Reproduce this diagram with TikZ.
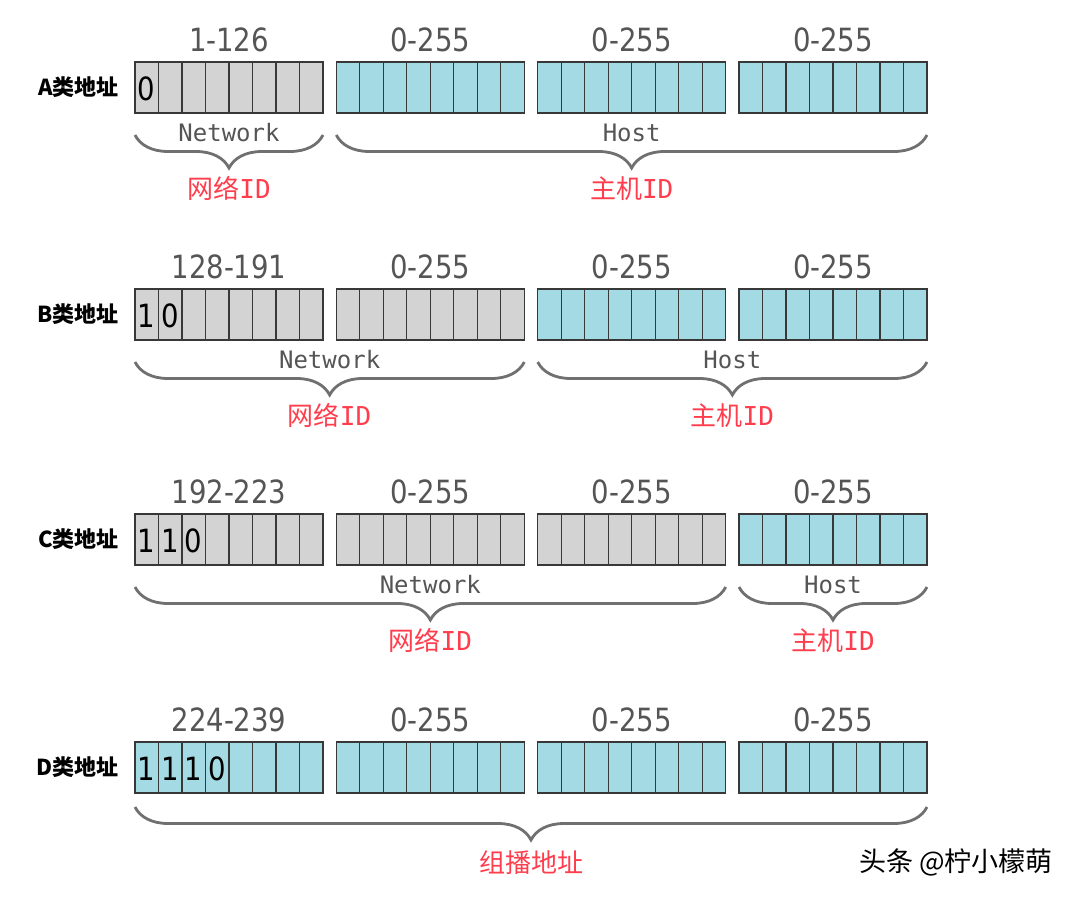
\documentclass[tikz,border=0pt]{standalone}
\usepackage{fontspec}
\setmonofont{DejaVu Sans Mono}
\newfontfamily\rangefont[FakeStretch=0.86]{DejaVu Sans}
\newfontfamily\cjk{Noto Sans CJK SC}
\usetikzlibrary{positioning,calc,decorations.pathreplacing}
\definecolor{netgray}{HTML}{D3D3D3}
\definecolor{hostblue}{HTML}{A3DAE3}
\definecolor{edgegray}{HTML}{383838}
\definecolor{textgray}{HTML}{555555}
\definecolor{bracegray}{HTML}{707070}
\definecolor{idred}{HTML}{FF3D4D}

\begin{document}
\begin{tikzpicture}
[x=1pt,y=-1pt,
octet/.style={draw=edgegray,line width=1.3pt,minimum width=188pt,minimum height=51pt,inner sep=0pt,outer sep=0pt,anchor=north west},
net/.style={octet,fill=netgray},
host/.style={octet,fill=hostblue},
cellline/.style={draw=edgegray,line width=1.3pt},
octrange/.style={inner sep=0pt,text=textgray,font=\rangefont\fontsize{32}{32}\selectfont},
bit/.style={inner sep=0pt,font=\rangefont\fontsize{32}{32}\selectfont},
rowname/.style={inner sep=0pt,font=\cjk\bfseries\fontsize{22}{22}\selectfont},
part/.style={inner sep=0pt,text=textgray,font=\ttfamily\fontsize{24}{24}\selectfont},
idtext/.style={inner sep=0pt,text=idred,font=\cjk\fontsize{26}{26}\selectfont},
bracket/.style={decorate,decoration={brace,mirror,amplitude=33pt},draw=bracegray,line width=2.8pt},
credit/.style={inner sep=0pt,font=\cjk\fontsize{27}{27}\selectfont},
]

%Canvas
\fill[white] (0,0) rectangle (1080,901);
\useasboundingbox (0,0) rectangle (1080,901);

%Left edges of the octets
\def\xa{135}
\def\xb{336.3}
\def\xc{537.7}
\def\xd{739}

%Top edges of the rows
\def\ya{62}
\def\yb{289}
\def\yc{514}
\def\yd{742}

%Class A
\node[net] (A1) at (\xa,\ya) {};
\node[host] (A2) at (\xb,\ya) {};
\node[host] (A3) at (\xc,\ya) {};
\node[host] (A4) at (\xd,\ya) {};

%Class B
\node[net] (B1) at (\xa,\yb) {};
\node[net] (B2) at (\xb,\yb) {};
\node[host] (B3) at (\xc,\yb) {};
\node[host] (B4) at (\xd,\yb) {};

%Class C
\node[net] (C1) at (\xa,\yc) {};
\node[net] (C2) at (\xb,\yc) {};
\node[net] (C3) at (\xc,\yc) {};
\node[host] (C4) at (\xd,\yc) {};

%Class D
\node[host] (D1) at (\xa,\yd) {};
\node[host] (D2) at (\xb,\yd) {};
\node[host] (D3) at (\xc,\yd) {};
\node[host] (D4) at (\xd,\yd) {};

%Bit cells
\foreach \blk in {A1,A2,A3,A4,B1,B2,B3,B4,C1,C2,C3,C4,D1,D2,D3,D4}
  \foreach \k in {1,...,7}
    \draw[cellline] ($(\blk.north west)!\k/8!(\blk.north east)$) -- ($(\blk.south west)!\k/8!(\blk.south east)$);

%Row names
\node[rowname,left=16pt of A1] (nameA) {A类地址};
\node[rowname,left=16pt of B1] (nameB) {B类地址};
\node[rowname,left=16pt of C1] (nameC) {C类地址};
\node[rowname,left=16pt of D1] (nameD) {D类地址};

%Value ranges
\node[octrange,above=10pt of A1] (rA1) {1-126};
\node[octrange,above=10pt of A2] (rA2) {0-255};
\node[octrange,above=10pt of A3] (rA3) {0-255};
\node[octrange,above=10pt of A4] (rA4) {0-255};
\node[octrange,above=10pt of B1] (rB1) {128-191};
\node[octrange,above=10pt of B2] (rB2) {0-255};
\node[octrange,above=10pt of B3] (rB3) {0-255};
\node[octrange,above=10pt of B4] (rB4) {0-255};
\node[octrange,above=10pt of C1] (rC1) {192-223};
\node[octrange,above=10pt of C2] (rC2) {0-255};
\node[octrange,above=10pt of C3] (rC3) {0-255};
\node[octrange,above=10pt of C4] (rC4) {0-255};
\node[octrange,above=10pt of D1] (rD1) {224-239};
\node[octrange,above=10pt of D2] (rD2) {0-255};
\node[octrange,above=10pt of D3] (rD3) {0-255};
\node[octrange,above=10pt of D4] (rD4) {0-255};

%Leading bits
\node[bit] (bA1) at ($(A1.west)+(11.75,1.5)$) {0};
\node[bit] (bB1) at ($(B1.west)+(11.75,1.5)$) {1};
\node[bit] (bB2) at ($(B1.west)+(35.25,1.5)$) {0};
\node[bit] (bC1) at ($(C1.west)+(11.75,1.5)$) {1};
\node[bit] (bC2) at ($(C1.west)+(35.25,1.5)$) {1};
\node[bit] (bC3) at ($(C1.west)+(58.75,1.5)$) {0};
\node[bit] (bD1) at ($(D1.west)+(11.75,1.5)$) {1};
\node[bit] (bD2) at ($(D1.west)+(35.25,1.5)$) {1};
\node[bit] (bD3) at ($(D1.west)+(58.75,1.5)$) {1};
\node[bit] (bD4) at ($(D1.west)+(82.25,1.5)$) {0};

%Braces of class A
\coordinate (aNl) at ($(A1.south west)+(0,22)$);
\coordinate (aNr) at ($(A1.south east)+(0,22)$);
\coordinate (aHl) at ($(A2.south west)+(0,22)$);
\coordinate (aHr) at ($(A4.south east)+(0,22)$);
\draw[bracket] (aNl) -- (aNr);
\draw[bracket] (aHl) -- (aHr);
\node[part] (pAN) at ($(aNl)!0.5!(aNr)+(0,-2)$) {Network};
\node[part] (pAH) at ($(aHl)!0.5!(aHr)+(0,-2)$) {Host};
\coordinate (aNt) at ($(aNl)!0.5!(aNr)+(0,33)$);
\coordinate (aHt) at ($(aHl)!0.5!(aHr)+(0,33)$);
\node[idtext,below=8pt of aNt] (iAN) {网络{\ttfamily ID}};
\node[idtext,below=8pt of aHt] (iAH) {主机{\ttfamily ID}};

%Braces of class B
\coordinate (bNl) at ($(B1.south west)+(0,22)$);
\coordinate (bNr) at ($(B2.south east)+(0,22)$);
\coordinate (bHl) at ($(B3.south west)+(0,22)$);
\coordinate (bHr) at ($(B4.south east)+(0,22)$);
\draw[bracket] (bNl) -- (bNr);
\draw[bracket] (bHl) -- (bHr);
\node[part] (pBN) at ($(bNl)!0.5!(bNr)+(0,-2)$) {Network};
\node[part] (pBH) at ($(bHl)!0.5!(bHr)+(0,-2)$) {Host};
\coordinate (bNt) at ($(bNl)!0.5!(bNr)+(0,33)$);
\coordinate (bHt) at ($(bHl)!0.5!(bHr)+(0,33)$);
\node[idtext,below=8pt of bNt] (iBN) {网络{\ttfamily ID}};
\node[idtext,below=8pt of bHt] (iBH) {主机{\ttfamily ID}};

%Braces of class C
\coordinate (cNl) at ($(C1.south west)+(0,22)$);
\coordinate (cNr) at ($(C3.south east)+(0,22)$);
\coordinate (cHl) at ($(C4.south west)+(0,22)$);
\coordinate (cHr) at ($(C4.south east)+(0,22)$);
\draw[bracket] (cNl) -- (cNr);
\draw[bracket] (cHl) -- (cHr);
\node[part] (pCN) at ($(cNl)!0.5!(cNr)+(0,-2)$) {Network};
\node[part] (pCH) at ($(cHl)!0.5!(cHr)+(0,-2)$) {Host};
\coordinate (cNt) at ($(cNl)!0.5!(cNr)+(0,33)$);
\coordinate (cHt) at ($(cHl)!0.5!(cHr)+(0,33)$);
\node[idtext,below=8pt of cNt] (iCN) {网络{\ttfamily ID}};
\node[idtext,below=8pt of cHt] (iCH) {主机{\ttfamily ID}};

%Brace of class D
\coordinate (dMl) at ($(D1.south west)+(0,14)$);
\coordinate (dMr) at ($(D4.south east)+(0,14)$);
\draw[bracket] (dMl) -- (dMr);
\coordinate (dMt) at ($(dMl)!0.5!(dMr)+(0,33)$);
\node[idtext,below=10pt of dMt] (iDM) {组播地址};

%Watermark
\node[credit] (wm) at (956,862) {头条 @柠小檬萌};

\end{tikzpicture}
\end{document}
